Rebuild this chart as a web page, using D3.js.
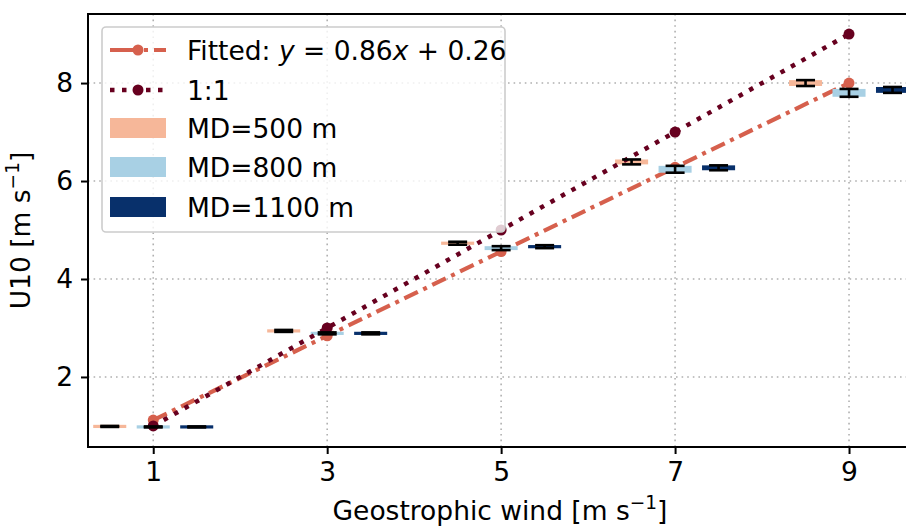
<!DOCTYPE html>
<html><head><meta charset="utf-8">
<script src="https://cdn.jsdelivr.net/npm/d3@7"></script>
<style>
body{margin:0;background:#fff;}
svg{display:block;font-family:"DejaVu Sans",sans-serif;}
</style></head>
<body><svg id="c" width="906" height="528"></svg>
<script>
// ---- data ----
const windSpeeds = [1, 3, 5, 7, 9];
const md500  = [0.99, 2.94, 4.73, 6.39, 8.00];
const md800  = [0.98, 2.89, 4.63, 6.24, 7.80];
const md1100 = [0.98, 2.89, 4.66, 6.27, 7.86];
const err500  = [0.01, 0.02, 0.03, 0.05, 0.06];
const err800  = [0.01, 0.02, 0.04, 0.07, 0.08];
const err1100 = [0.01, 0.02, 0.03, 0.05, 0.06];
const fitSlope = 0.86, fitIntercept = 0.26;
const xTicks = [1, 3, 5, 7, 9];
const yTicks = [2, 4, 6, 8];
const seriesNames = ["MD=500 m", "MD=800 m", "MD=1100 m"];

// ---- layout ----
const svg = d3.select("#c");
const L = 88, T = 14, R = 936, B = 447;
const x = d3.scaleLinear().domain([0.25, 10]).range([L, R]);
const y = d3.scaleLinear().domain([0.57, 9.41]).range([B, T]);
const FS = 26.5;
const colors = ["#f6b799", "#a8d0e4", "#08306b"];
const offsets = [-0.5, 0, 0.5];
const barW = 0.38;

// grid
const grid = svg.append("g");
xTicks.forEach(t => grid.append("line").attr("x1", x(t)).attr("x2", x(t)).attr("y1", T).attr("y2", B)
  .attr("stroke", "#b0b0b0").attr("stroke-width", 1.6).attr("stroke-dasharray", "1.6,4"));
yTicks.forEach(t => grid.append("line").attr("x1", L).attr("x2", R).attr("y1", y(t)).attr("y2", y(t))
  .attr("stroke", "#b0b0b0").attr("stroke-width", 1.6).attr("stroke-dasharray", "1.6,4"));

// fitted line
const fitVals = windSpeeds.map(v => fitSlope * v + fitIntercept);
const line = d3.line().x(d => x(d[0])).y(d => y(d[1]));
const fitPts = windSpeeds.map((v, i) => [v, fitVals[i]]);
svg.append("path").attr("d", line(fitPts)).attr("fill", "none").attr("stroke", "#d6604d")
  .attr("stroke-width", 4.2).attr("stroke-dasharray", "15,6,4,6");
fitPts.forEach(p => svg.append("circle").attr("cx", x(p[0])).attr("cy", y(p[1])).attr("r", 5.5).attr("fill", "#d6604d"));

// bars
const allVals = [md500, md800, md1100];
const allErr = [err500, err800, err1100];
allVals.forEach((vals, s) => {
  vals.forEach((v, i) => {
    const cx = windSpeeds[i] + offsets[s];
    const e = allErr[s][i];
    const top = y(v + e), bot = y(v - e);
    const h = Math.max(bot - top, 3.2);
    const mid = y(v);
    svg.append("rect").attr("x", x(cx - barW / 2)).attr("width", x(cx + barW / 2) - x(cx - barW / 2))
      .attr("y", mid - h / 2).attr("height", h).attr("fill", colors[s]);
  });
});

// 1:1 line
const onePts = windSpeeds.map(v => [v, v]);
svg.append("path").attr("d", line(onePts)).attr("fill", "none").attr("stroke", "#67001f")
  .attr("stroke-width", 4.5).attr("stroke-dasharray", "4.5,7.5");
onePts.forEach(p => svg.append("circle").attr("cx", x(p[0])).attr("cy", y(p[1])).attr("r", 5.5).attr("fill", "#67001f"));

// error bars
allVals.forEach((vals, s) => {
  vals.forEach((v, i) => {
    const cx = x(windSpeeds[i] + offsets[s]);
    const e = allErr[s][i];
    const g = svg.append("g").attr("stroke", "#000").attr("stroke-width", 2.6);
    g.append("line").attr("x1", cx).attr("x2", cx).attr("y1", y(v - e)).attr("y2", y(v + e));
    [v - e, v + e].forEach(yy => g.append("line").attr("x1", cx - 9.5).attr("x2", cx + 9.5).attr("y1", y(yy)).attr("y2", y(yy)));
  });
});

// legend
const lg = svg.append("g");
lg.append("rect").attr("x", 102).attr("y", 27).attr("width", 403).attr("height", 205).attr("rx", 4)
  .attr("fill", "#fff").attr("fill-opacity", 0.8).attr("stroke", "#cccccc").attr("stroke-width", 1.6);
const rowY = [50, 90, 128, 167, 207];
const hx0 = 110, hx1 = 166, tx = 187;
lg.append("line").attr("x1", hx0).attr("x2", hx1).attr("y1", rowY[0]).attr("y2", rowY[0]).attr("stroke", "#d6604d")
  .attr("stroke-width", 4.2).attr("stroke-dasharray", "28,6,4,6");
lg.append("circle").attr("cx", (hx0 + hx1) / 2).attr("cy", rowY[0]).attr("r", 5.5).attr("fill", "#d6604d");
lg.append("line").attr("x1", hx0).attr("x2", hx1).attr("y1", rowY[1]).attr("y2", rowY[1]).attr("stroke", "#67001f")
  .attr("stroke-width", 4.5).attr("stroke-dasharray", "4.5,7.5");
lg.append("circle").attr("cx", (hx0 + hx1) / 2).attr("cy", rowY[1]).attr("r", 5.5).attr("fill", "#67001f");
seriesNames.forEach((n, s) => {
  lg.append("rect").attr("x", hx0).attr("y", rowY[s + 2] - 10).attr("width", hx1 - hx0).attr("height", 20).attr("fill", colors[s]);
  lg.append("text").attr("x", tx).attr("y", rowY[s + 2]).attr("dy", "0.36em").attr("font-size", FS).text(n);
});
const ft = lg.append("text").attr("x", tx).attr("y", rowY[0]).attr("dy", "0.36em").attr("font-size", FS).attr("xml:space", "preserve");
ft.append("tspan").text("Fitted: ");
ft.append("tspan").attr("font-style", "italic").text("y");
ft.append("tspan").text(" = 0.86");
ft.append("tspan").attr("font-style", "italic").text("x");
ft.append("tspan").text(" + 0.26");
lg.append("text").attr("x", tx).attr("y", rowY[1]).attr("dy", "0.36em").attr("font-size", FS).text("1:1");

// axes
const xAxis = d3.axisBottom(x).tickValues(xTicks).tickFormat(d3.format("d")).tickSize(7).tickPadding(8);
const yAxis = d3.axisLeft(y).tickValues(yTicks).tickFormat(d3.format("d")).tickSize(7).tickPadding(8);
const gx = svg.append("g").attr("transform", `translate(0,${B})`).call(xAxis);
const gy = svg.append("g").attr("transform", `translate(${L},0)`).call(yAxis);
[gx, gy].forEach(g => {
  g.select(".domain").remove();
  g.selectAll(".tick line").attr("stroke", "#000").attr("stroke-width", 2);
  g.selectAll(".tick text").attr("font-size", FS).attr("fill", "#000").attr("font-family", "DejaVu Sans");
});
// frame
svg.append("rect").attr("x", L).attr("y", T).attr("width", R - L).attr("height", B - T)
  .attr("fill", "none").attr("stroke", "#000").attr("stroke-width", 2);

// axis labels
const xl = svg.append("text").attr("x", 500).attr("y", 520).attr("text-anchor", "middle").attr("font-size", FS);
xl.append("tspan").text("Geostrophic wind [m s");
xl.append("tspan").attr("dy", -11).attr("font-size", FS * 0.7).text("−1");
xl.append("tspan").attr("dy", 11).text("]");
const yl = svg.append("text").attr("transform", `translate(30,${(T + B) / 2}) rotate(-90)`).attr("text-anchor", "middle").attr("font-size", FS);
yl.append("tspan").text("U10 [m s");
yl.append("tspan").attr("dy", -11).attr("font-size", FS * 0.7).text("−1");
yl.append("tspan").attr("dy", 11).text("]");
</script></body></html>
